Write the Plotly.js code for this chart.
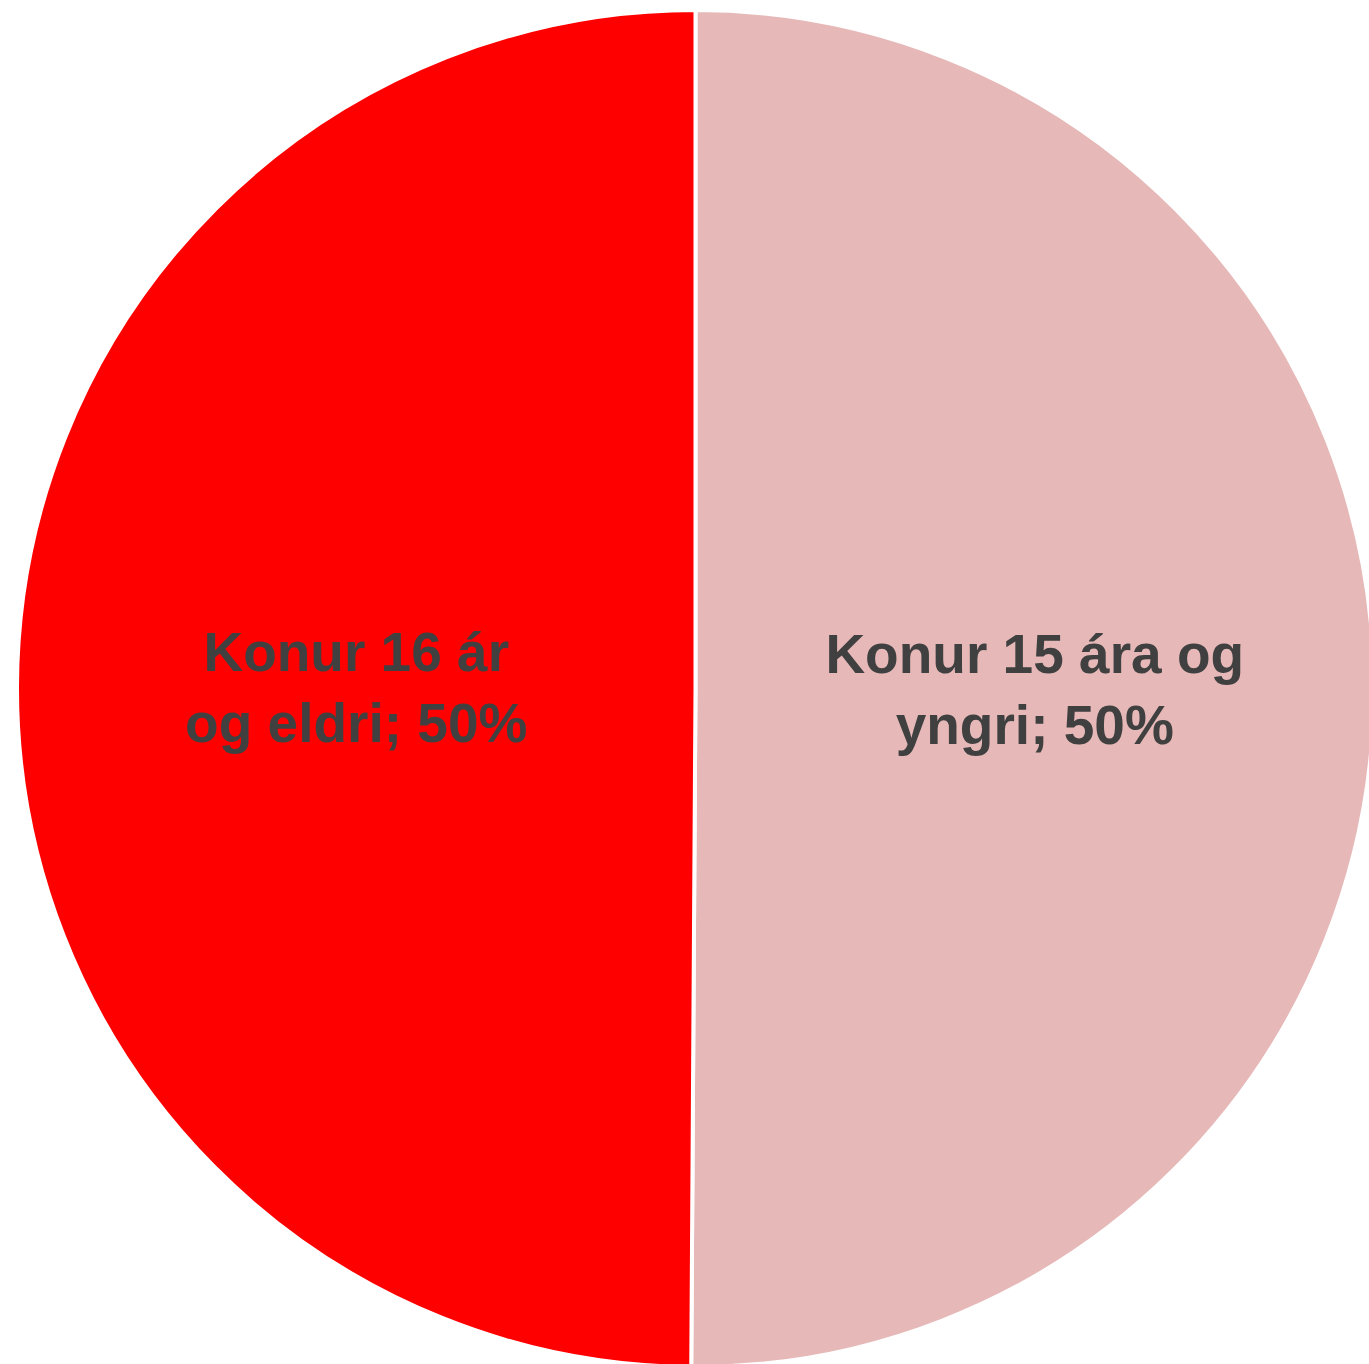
<!DOCTYPE html>
<html>
<head>
<meta charset="utf-8">
<script src="https://cdn.plot.ly/plotly-3.0.1.min.js"></script>
<style>
  html, body { margin: 0; padding: 0; overflow: hidden; background: #ffffff; }
  #chart { width: 1391px; height: 1377px; }
</style>
</head>
<body>
<div id="chart"></div>
<script>
const labels = ["Konur 15 ára og<br>yngri", "Konur 16 ár<br>og eldri"];
const values = [50.1, 49.9];
const colors = ["#E6B9B8", "#FF0000"];

const W = 1391, H = 1377;
const data = [{
  type: "pie",
  labels: labels,
  values: values,
  sort: false,
  direction: "clockwise",
  rotation: 0,
  marker: { colors: colors, line: { color: "#ffffff", width: 4 } },
  textposition: "inside",
  insidetextorientation: "horizontal",
  texttemplate: "%{label}; %{percent:.0%}",
  textfont: { family: "Liberation Sans, Arial, sans-serif", size: 55, color: "#404040", weight: "bold" },
  hoverinfo: "label+percent",
  showlegend: false,
  domain: { x: [17 / W, 1374 / W], y: [10 / H, 1367 / H] }
}];

const layout = {
  width: W,
  height: H,
  margin: { l: 0, r: 0, t: 0, b: 0, pad: 0 },
  paper_bgcolor: "#ffffff",
  plot_bgcolor: "#ffffff",
  showlegend: false
};

Plotly.newPlot("chart", data, layout, { displayModeBar: false, staticPlot: true });
</script>
</body>
</html>
